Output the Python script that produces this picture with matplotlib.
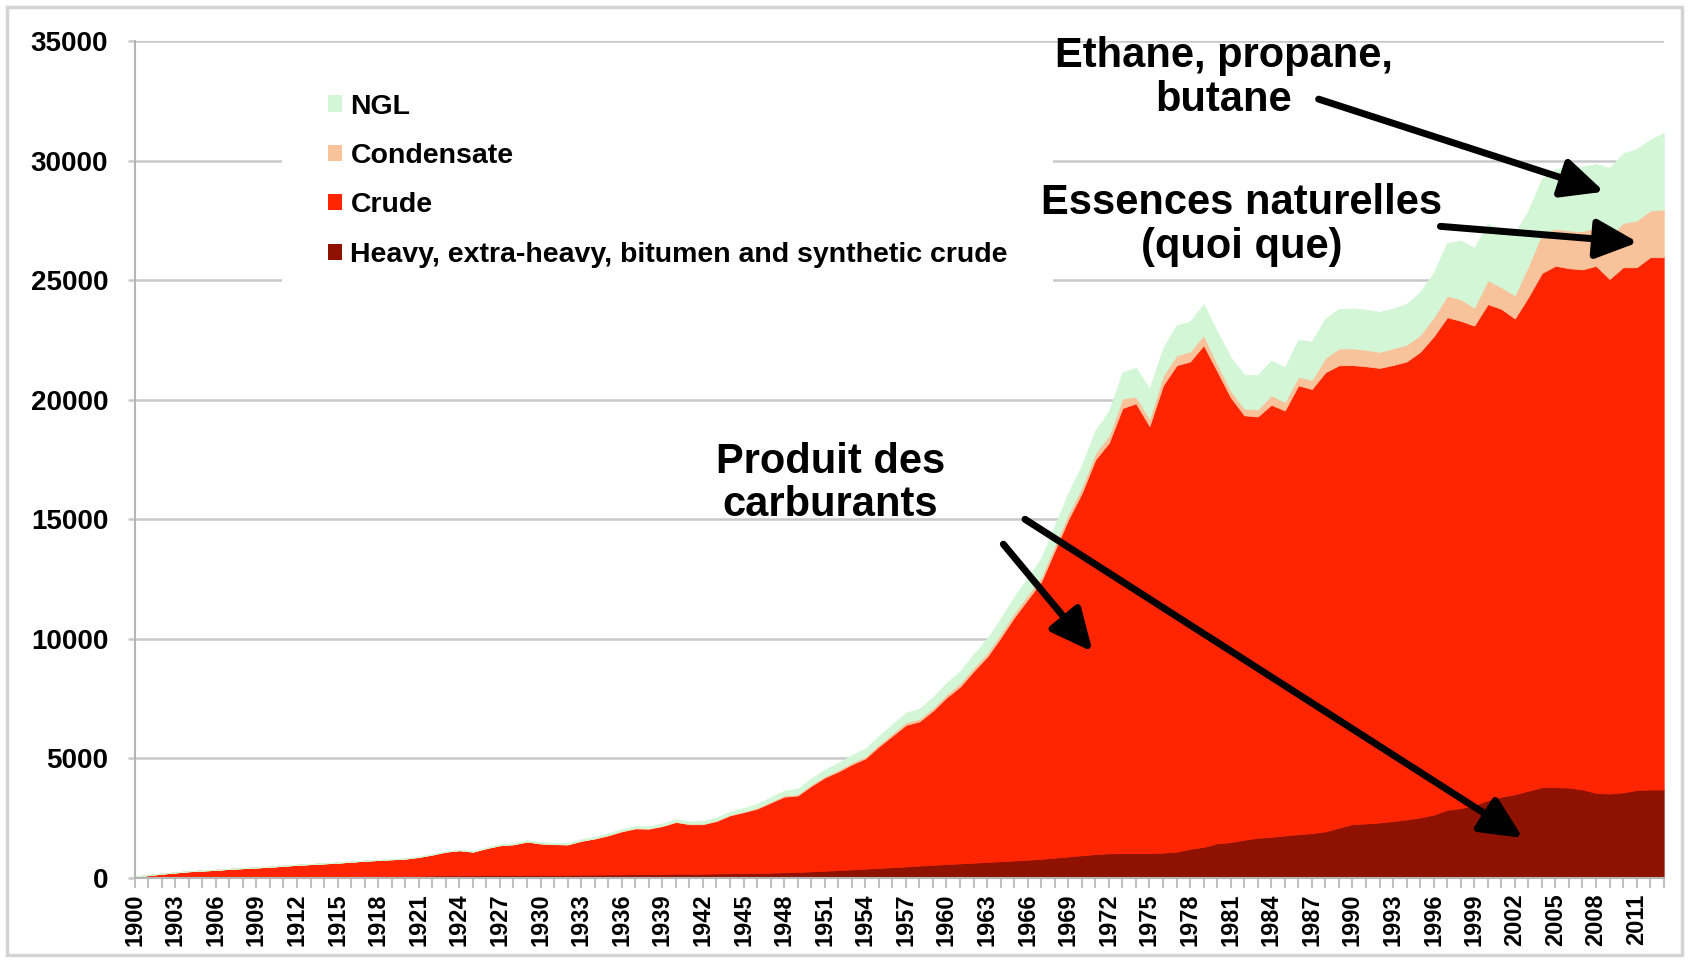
"""Production of liquids 1900-2013, stacked by type, with French annotations."""

import matplotlib.pyplot as plt
from matplotlib.patches import Patch, Rectangle
from matplotlib.ticker import FixedLocator, MultipleLocator

plt.rcParams["font.family"] = ["Liberation Sans", "DejaVu Sans"]
plt.rcParams["font.weight"] = "bold"

YEARS = list(range(1900, 2014))

HEAVY = [
    0, 0, 0, 0, 0, 5, 5, 10, 10, 10,                              # 1900s
    20, 30, 40, 50, 50, 60, 60, 70, 70, 80,                       # 1910s
    80, 90, 100, 110, 110, 110, 120, 120, 130, 130,               # 1920s
    130, 130, 130, 140, 140, 150, 150, 160, 160, 170,             # 1930s
    180, 180, 180, 190, 200, 200, 210, 220, 240, 250,             # 1940s
    280, 300, 330, 360, 390, 420, 450, 480, 520, 550,             # 1950s
    580, 610, 640, 670, 700, 730, 760, 800, 850, 900,             # 1960s
    950, 1000, 1030, 1040, 1040, 1040, 1060, 1100, 1220, 1300,    # 1970s
    1450, 1500, 1600, 1680, 1720, 1780, 1830, 1875, 1950, 2100,   # 1980s
    2250, 2280, 2320, 2380, 2450, 2530, 2650, 2850, 2920, 3050,   # 1990s
    3250, 3400, 3500, 3650, 3800, 3800, 3780, 3700, 3560, 3530,   # 2000s
    3580, 3680, 3700, 3700,                                       # 2010s
]
CRUDE = [
    50, 120, 180, 230, 280, 305, 335, 370, 400, 430,
    450, 480, 510, 530, 560, 580, 620, 650, 680, 700,
    730, 790, 880, 990, 1050, 990, 1130, 1250, 1280, 1390,
    1310, 1280, 1270, 1410, 1510, 1630, 1800, 1910, 1900, 2000,
    2160, 2070, 2070, 2190, 2420, 2550, 2690, 2930, 3160, 3200,
    3570, 3900, 4120, 4390, 4610, 5080, 5500, 5920, 6030, 6450,
    6970, 7390, 8010, 8580, 9350, 10170, 10890, 11600, 12850, 14100,
    15150, 16500, 17170, 18610, 18810, 17860, 19540, 20340, 20380, 20980,
    19750, 18600, 17750, 17620, 18070, 17770, 18770, 18575, 19200, 19340,
    19200, 19120, 19010, 19070, 19150, 19470, 20000, 20600, 20380, 20050,
    20750, 20400, 19900, 20650, 21500, 21800, 21720, 21750, 22040, 21520,
    21960, 21860, 22260, 22260,
]
CONDENSATE = [
    0, 0, 0, 0, 0, 0, 0, 0, 0, 0,
    0, 0, 0, 0, 0, 0, 0, 0, 0, 0,
    0, 0, 0, 0, 0, 0, 0, 0, 0, 10,
    10, 10, 10, 10, 10, 20, 20, 20, 20, 20,
    20, 20, 20, 30, 30, 30, 40, 40, 50, 50,
    60, 60, 70, 80, 80, 90, 100, 110, 110, 120,
    130, 140, 150, 160, 170, 180, 190, 200, 210, 230,
    250, 270, 300, 400, 280, 300, 400, 420, 420, 420,
    300, 290, 280, 290, 400, 350, 360, 380, 600, 700,
    700, 690, 670, 700, 700, 700, 800, 900, 900, 750,
    1000, 900, 970, 1300, 1650, 1550, 1580, 1600, 1600, 1800,
    1850, 1950, 1950, 2000,
]
NGL = [
    0, 0, 0, 0, 0, 0, 0, 0, 0, 0,
    0, 0, 0, 0, 0, 0, 0, 5, 5, 10,
    10, 15, 20, 20, 25, 30, 30, 40, 40, 50,
    50, 50, 50, 60, 60, 70, 70, 80, 80, 90,
    100, 100, 110, 120, 130, 140, 160, 180, 200, 230,
    250, 270, 290, 310, 330, 350, 380, 400, 420, 450,
    480, 510, 550, 590, 630, 670, 720, 770, 820, 870,
    900, 950, 1000, 1100, 1200, 1250, 1150, 1250, 1250, 1300,
    1350, 1380, 1420, 1440, 1440, 1450, 1550, 1600, 1650, 1650,
    1670, 1670, 1670, 1670, 1700, 1800, 1850, 2200, 2450, 2500,
    2350, 2450, 2600, 2300, 2300, 2500, 2650, 2700, 2650, 2850,
    2900, 3000, 2950, 3200,
]

SERIES_LABELS = ["Heavy, extra-heavy, bitumen and synthetic crude",
                 "Crude", "Condensate", "NGL"]
SERIES_COLORS = ["#8f1200", "#ff2500", "#f8c29b", "#d3f6d7"]

Y_TICKS = [0, 5000, 10000, 15000, 20000, 25000, 30000, 35000]
X_TICK_YEARS = list(range(1900, 2012, 3))

# (text, centre year, centre value)
NOTES = [
    ("Ethane, propane,\nbutane", 1980.5, 33450),
    ("Essences naturelles\n(quoi que)", 1981.8, 27300),
    ("Produit des\ncarburants", 1951.4, 16500),
]
# (start year, start value, end year, end value)
ARROWS = [
    (1987.5, 32570, 2008.6, 28700),
    (1996.5, 27250, 2011.1, 26580),
    (1964.2, 13960, 1970.8, 9460),
    (1965.8, 15000, 2002.6, 1670),
]

GRID_GREY = "#c9c9c9"


def main() -> None:
    fig = plt.figure(figsize=(16.89, 9.63), dpi=100)
    fig.add_artist(Rectangle((0.004, 0.008), 0.992, 0.985, transform=fig.transFigure,
                             fill=False, edgecolor="#d4d4d4", lw=2.5))
    ax = fig.add_axes([0.0797, 0.0883, 0.9053, 0.8691])

    polys = ax.stackplot(YEARS, HEAVY, CRUDE, CONDENSATE, NGL,
                         colors=SERIES_COLORS, zorder=2)
    for p, c in zip(polys, SERIES_COLORS):
        p.set_edgecolor(c)
        p.set_linewidth(0.6)

    ax.set_xlim(1900, 2013)
    ax.set_ylim(0, 35000)
    ax.set_yticks(Y_TICKS)
    ax.set_yticklabels([str(v) for v in Y_TICKS])
    ax.xaxis.set_major_locator(FixedLocator(X_TICK_YEARS))
    ax.xaxis.set_minor_locator(MultipleLocator(1))
    ax.set_xticklabels([str(y) for y in X_TICK_YEARS])

    ax.yaxis.grid(True, color=GRID_GREY, lw=1.8)
    ax.set_axisbelow(True)
    for side in ["top", "right"]:
        ax.spines[side].set_visible(False)
    ax.spines["left"].set_color("#b5b5b5")
    ax.spines["left"].set_linewidth(1.5)
    ax.spines["bottom"].set_color("#b5b5b5")
    ax.spines["bottom"].set_linewidth(1.5)

    ax.tick_params(axis="y", length=5, width=1.8, color=GRID_GREY, pad=14,
                   labelsize=20)
    ax.tick_params(axis="x", which="both", length=7, width=1.5, color="#c0c0c0",
                   direction="out")
    ax.tick_params(axis="x", which="major", labelsize=17, labelrotation=90, pad=4)

    handles = [Patch(facecolor=c, edgecolor="none") for c in SERIES_COLORS[::-1]]
    leg = ax.legend(handles, SERIES_LABELS[::-1], loc="upper left",
                    bbox_to_anchor=(0.167, 0.950), bbox_transform=fig.transFigure,
                    borderaxespad=0, frameon=True, facecolor="white",
                    edgecolor="none", framealpha=1, fancybox=False,
                    fontsize=20.5, handlelength=0.5, handleheight=0.5,
                    handletextpad=0.3, labelspacing=0.82, borderpad=1.6)
    leg.set_zorder(5)

    for text, x, y in NOTES:
        ax.text(x, y, text, ha="center", va="center", multialignment="center",
                fontsize=30, fontweight="bold", linespacing=1.12, zorder=6)

    for x0, y0, x1, y1 in ARROWS:
        ax.annotate("", xy=(x1, y1), xytext=(x0, y0), zorder=7,
                    arrowprops=dict(arrowstyle="-|>,head_length=0.85,head_width=0.4",
                                    mutation_scale=30, lw=5, color="black",
                                    shrinkA=0, shrinkB=0))

    fig.savefig("out.png", dpi=100)
    plt.close(fig)


if __name__ == "__main__":
    main()
